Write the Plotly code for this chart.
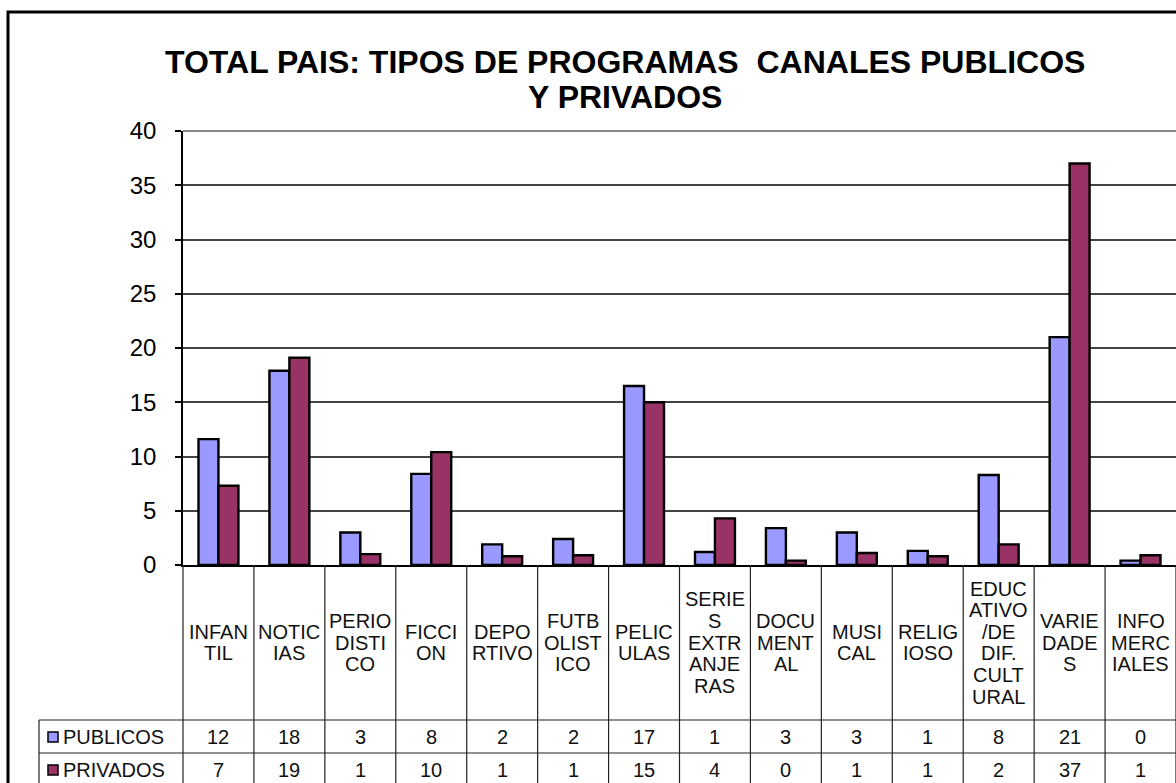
import plotly.graph_objects as go

# ---- data ----
categories = ["INFANTIL", "NOTICIAS", "PERIODISTICO", "FICCION", "DEPORTIVO",
              "FUTBOLISTICO", "PELICULAS", "SERIES EXTRANJERAS", "DOCUMENTAL",
              "MUSICAL", "RELIGIOSO", "EDUCATIVO /DE DIF. CULTURAL",
              "VARIEDADES", "INFOMERCIALES"]
category_lines = [["INFAN", "TIL"], ["NOTIC", "IAS"], ["PERIO", "DISTI", "CO"],
                  ["FICCI", "ON"], ["DEPO", "RTIVO"], ["FUTB", "OLIST", "ICO"],
                  ["PELIC", "ULAS"], ["SERIE", "S", "EXTR", "ANJE", "RAS"],
                  ["DOCU", "MENT", "AL"], ["MUSI", "CAL"], ["RELIG", "IOSO"],
                  ["EDUC", "ATIVO", "/DE", "DIF.", "CULT", "URAL"],
                  ["VARIE", "DADE", "S"], ["INFO", "MERC", "IALES"]]
publicos = [11.6, 17.9, 3.0, 8.4, 1.9, 2.4, 16.5, 1.2, 3.4, 3.0, 1.3, 8.3, 21.0, 0.4]
privados = [7.3, 19.1, 1.0, 10.4, 0.8, 0.9, 15.0, 4.3, 0.4, 1.1, 0.8, 1.9, 37.0, 0.9]
series_names = ["PUBLICOS", "PRIVADOS"]
title_lines = ["TOTAL PAIS: TIPOS DE PROGRAMAS \u00a0CANALES PUBLICOS", "Y PRIVADOS"]
y_ticks = [0, 5, 10, 15, 20, 25, 30, 35, 40]

# ---- style ----
C_PUB = "#9999FF"
C_PRI = "#993366"
FONT = "Liberation Sans, Arial, sans-serif"
W, H = 1176, 783
L, R, T, B = 183, 0, 131, 218
PW, PH = W - L - R, H - T - B


def px_x(p):
    return (p - L) / PW


def px_y(p):
    return (H - B - p) / PH


fig = go.Figure()
fig.add_trace(go.Bar(x=categories, y=publicos, name=series_names[0],
                     marker=dict(color=C_PUB, line=dict(color="black", width=2.4))))
fig.add_trace(go.Bar(x=categories, y=privados, name=series_names[1],
                     marker=dict(color=C_PRI, line=dict(color="black", width=2.4))))

shapes = []
# outer chart frame
shapes.append(dict(type="rect", xref="paper", yref="paper",
                   x0=px_x(8), x1=px_x(1300), y0=px_y(12), y1=px_y(900),
                   line=dict(color="black", width=3), layer="above"))
# plot area top border
shapes.append(dict(type="line", xref="paper", yref="paper", x0=0, x1=1.2, y0=1, y1=1,
                   line=dict(color="#888888", width=2), layer="above"))
n = len(categories)
# table vertical lines
for i in range(n + 1):
    shapes.append(dict(type="line", xref="paper", yref="paper",
                       x0=i / n, x1=i / n, y0=0, y1=px_y(800),
                       line=dict(color="#222222", width=1.2)))
shapes.append(dict(type="line", xref="paper", yref="paper",
                   x0=px_x(39), x1=px_x(39), y0=px_y(720), y1=px_y(800),
                   line=dict(color="#222222", width=1.2)))
for yy in (720, 753):
    shapes.append(dict(type="line", xref="paper", yref="paper",
                       x0=px_x(39), x1=1.05, y0=px_y(yy), y1=px_y(yy),
                       line=dict(color="#222222", width=1.2)))
# legend keys
for yc, col in ((737, C_PUB), (770, C_PRI)):
    shapes.append(dict(type="rect", xref="paper", yref="paper",
                       x0=px_x(48), x1=px_x(58), y0=px_y(yc - 5), y1=px_y(yc + 5),
                       fillcolor=col, line=dict(color="black", width=1.5)))

annotations = []
# title
for j, (txt, yc) in enumerate(zip(title_lines, (62, 97))):
    annotations.append(dict(text="<b>" + txt + "</b>", xref="paper", yref="paper",
                            x=px_x(625), y=px_y(yc), xanchor="center", yanchor="middle",
                            showarrow=False, font=dict(family=FONT, size=32, color="black")))
# category labels in table header cells
spacing = 21.6
for cat, lines in zip(categories, category_lines):
    k = len(lines)
    for j, ln in enumerate(lines):
        yc = 642.5 + (j - (k - 1) / 2) * spacing
        annotations.append(dict(text=ln, xref="x", yref="paper", x=cat, y=px_y(yc),
                                xanchor="center", yanchor="middle", showarrow=False,
                                font=dict(family=FONT, size=20, color="#111111")))
# table rows
for name, vals, yc in ((series_names[0], publicos, 736.5), (series_names[1], privados, 769.5)):
    annotations.append(dict(text=name, xref="paper", yref="paper", x=px_x(61), y=px_y(yc),
                            xanchor="left", yanchor="middle", showarrow=False,
                            font=dict(family=FONT, size=20, color="#111111")))
    for cat, v in zip(categories, vals):
        annotations.append(dict(text=str(int(v + 0.5)), xref="x", yref="paper", x=cat,
                                y=px_y(yc), xanchor="center", yanchor="middle",
                                showarrow=False,
                                font=dict(family=FONT, size=20, color="#111111")))

fig.update_layout(
    width=W, height=H,
    margin=dict(l=L, r=R, t=T, b=B, pad=0),
    paper_bgcolor="white", plot_bgcolor="white",
    barmode="group", bargap=0.437, bargroupgap=0,
    showlegend=False,
    shapes=shapes, annotations=annotations,
    xaxis=dict(showticklabels=False, showline=True, linecolor="black", linewidth=1.5,
               ticks="", showgrid=False, fixedrange=True),
    yaxis=dict(range=[0, 40], tickvals=y_ticks, ticks="outside", ticklen=6,
               tickcolor="black", tickwidth=1.5, showline=True, linecolor="black",
               linewidth=1.5, gridcolor="#444444", gridwidth=1.5, zeroline=False,
               tickfont=dict(family=FONT, size=24, color="black"),
               ticklabelstandoff=14, fixedrange=True),
)

fig.write_html("out.html", post_script="document.body.style.margin='0';",
               config={"displayModeBar": False})
